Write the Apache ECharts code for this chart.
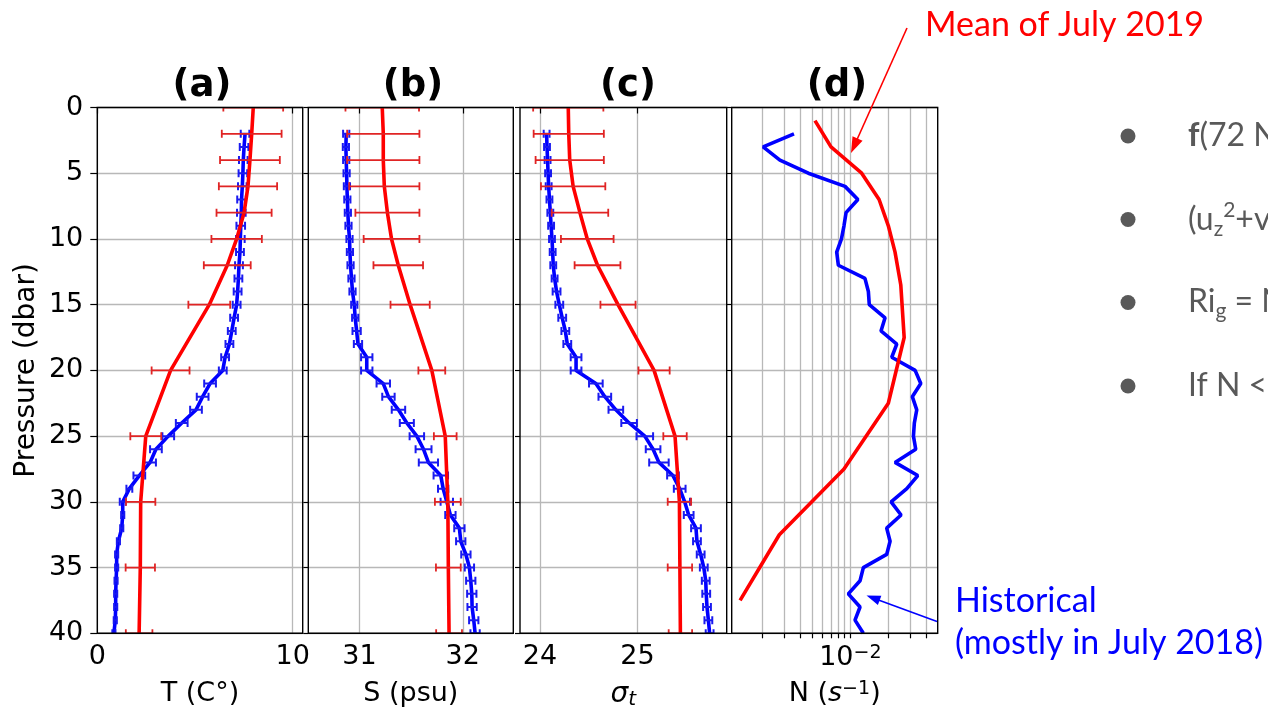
<!DOCTYPE html>
<html>
<head>
<meta charset="utf-8">
<script src="https://cdn.jsdelivr.net/npm/echarts@6/dist/echarts.min.js"></script>
<style>html,body{margin:0;padding:0;background:#fff;}#main{width:1268px;height:712px;}</style>
</head>
<body>
<div id="main"></div>
<script>
// ---------------- data ----------------
// Mean of July 2019 (red) – with error bars
const pressureMean = [0, 2, 4, 6, 8, 10, 12, 15, 20, 25, 30, 35, 40];
const tempMean     = [7.98, 7.90, 7.81, 7.71, 7.51, 7.13, 6.65, 5.73, 3.75, 2.48, 2.22, 2.20, 2.14];
const tempMeanErr  = [1.53, 1.53, 1.53, 1.49, 1.41, 1.29, 1.20, 1.07, 0.97, 0.79, 0.75, 0.75, 0.68];
const salMean      = [31.22, 31.23, 31.23, 31.24, 31.27, 31.31, 31.375, 31.49, 31.70, 31.83, 31.855, 31.86, 31.867];
const salMeanErr   = [0.356, 0.35, 0.35, 0.34, 0.31, 0.27, 0.24, 0.19, 0.13, 0.11, 0.125, 0.12, 0.125];
const sigMean      = [24.29, 24.295, 24.305, 24.34, 24.41, 24.485, 24.59, 24.80, 25.17, 25.385, 25.43, 25.435, 25.44];
const sigMeanErr   = [0.36, 0.36, 0.35, 0.33, 0.29, 0.27, 0.235, 0.18, 0.16, 0.12, 0.12, 0.125, 0.12];
const pressureNMean = [1, 3, 5, 7, 9, 11, 13.5, 17.5, 22.5, 27.5, 32.5, 37.5];
const nMean         = [0.00525, 0.00703, 0.0123, 0.0169, 0.0200, 0.0226, 0.0251, 0.0267, 0.0200, 0.00891, 0.00274, 0.00134];

// Historical (blue) – every dbar
const pressureHist = [2, 3, 4, 5, 6, 7, 8, 9, 10, 11, 12, 13, 14, 15, 16, 17, 18, 19, 20,
                      21, 22, 23, 24, 25, 26, 27, 28, 29, 30, 31, 32, 33, 34, 35, 36, 37, 38, 39, 40];
const tempHist = [7.56, 7.51, 7.47, 7.45, 7.42, 7.38, 7.37, 7.34, 7.32, 7.30, 7.25, 7.22, 7.18, 7.13, 7.00, 6.88, 6.76, 6.54, 6.42,
                  5.77, 5.39, 5.05, 4.32, 3.63, 3.00, 2.70, 2.15, 1.64, 1.30, 1.30, 1.25, 1.08, 0.99, 0.99, 0.96, 0.94, 0.94, 0.92, 0.85];
const tempHistErr = [0.22, 0.22, 0.22, 0.22, 0.22, 0.22, 0.22, 0.22, 0.22, 0.2, 0.2, 0.2, 0.2, 0.2, 0.2, 0.2, 0.2, 0.2, 0.2,
                     0.3, 0.3, 0.3, 0.3, 0.3, 0.3, 0.3, 0.3, 0.15, 0.15, 0.08, 0.08, 0.08, 0.08, 0.08, 0.08, 0.08, 0.08, 0.08, 0.08];
const salHist = [30.871, 30.868, 30.871, 30.875, 30.878, 30.882, 30.887, 30.893, 30.903, 30.907, 30.913, 30.922, 30.932, 30.949, 30.958, 30.972, 30.985, 31.07, 31.07,
                 31.23, 31.28, 31.377, 31.458, 31.555, 31.62, 31.667, 31.787, 31.81, 31.845, 31.88, 31.967, 31.98, 32.03, 32.064, 32.077, 32.087, 32.09, 32.106, 32.119];
const salHistErr = [0.03, 0.03, 0.03, 0.03, 0.03, 0.03, 0.03, 0.03, 0.03, 0.03, 0.03, 0.03, 0.03, 0.03, 0.03, 0.04, 0.04, 0.055, 0.055,
                    0.065, 0.06, 0.065, 0.068, 0.07, 0.077, 0.093, 0.07, 0.05, 0.06, 0.05, 0.05, 0.045, 0.045, 0.045, 0.045, 0.045, 0.045, 0.045, 0.045];
const sigHist = [24.068, 24.072, 24.078, 24.083, 24.089, 24.097, 24.106, 24.114, 24.123, 24.13, 24.136, 24.15, 24.17, 24.198, 24.228, 24.26, 24.28, 24.37, 24.37,
                 24.573, 24.665, 24.778, 24.914, 25.075, 25.16, 25.22, 25.364, 25.433, 25.484, 25.525, 25.60, 25.61, 25.648, 25.68, 25.70, 25.705, 25.713, 25.727, 25.74];
const sigHistErr = [0.03, 0.03, 0.03, 0.03, 0.03, 0.03, 0.03, 0.03, 0.03, 0.03, 0.03, 0.03, 0.04, 0.04, 0.04, 0.04, 0.04, 0.055, 0.055,
                    0.07, 0.065, 0.075, 0.08, 0.085, 0.075, 0.1, 0.06, 0.06, 0.055, 0.05, 0.05, 0.04, 0.04, 0.04, 0.04, 0.04, 0.04, 0.04, 0.04];
const nHist = [0.00358, 0.00204, 0.00277, 0.00465, 0.00908, 0.01148, 0.00925, 0.00891, 0.00851, 0.0078, 0.00804, 0.01306, 0.0139, 0.01413, 0.01884, 0.0175, 0.02333, 0.02128, 0.0326,
               0.03614, 0.03097, 0.03357, 0.03214, 0.03162, 0.03296, 0.0226, 0.0342, 0.028, 0.02104, 0.02523, 0.01941, 0.02065, 0.01941, 0.01268, 0.01194, 0.00964, 0.01194, 0.01089, 0.01268];

// tick values
const pressureTicks = [0, 5, 10, 15, 20, 25, 30, 35, 40];
const tempTicks = [0, 10];
const salTicks = [31, 32];
const sigTicks = [24, 25];
const nMajorTicks = [0.01];
const nMinorTicks = [0.002, 0.003, 0.004, 0.005, 0.006, 0.007, 0.008, 0.009, 0.01, 0.02, 0.03, 0.04];

// ---------------- chart ----------------
const chart = echarts.init(document.getElementById('main'), null, {renderer: 'canvas'});
const FONT = 'DejaVu Sans';
const FS = 27;
const RED = '#ff0000', BLUE = '#0000ff', RED_ERR = '#e02424', BLUE_ERR = '#1a1af0';
const GRID_COLOR = '#b8b8b8';

const gridTop = 107.5, gridH = 525.8;
const gridBoxes = [
  {left: 97.3, width: 205.4},
  {left: 308.3, width: 205},
  {left: 520, width: 206.7},
  {left: 731.7, width: 206}
];
const grids = gridBoxes.map(g => ({left: g.left, width: g.width, top: gridTop, height: gridH,
  show: false, containLabel: false, outerBoundsMode: 'none'}));

const N_MIN = 0.00115, N_MAX = 0.0492;

function xAxisLin(idx, min, max, ticks, name) {
  return {
    type: 'value', gridIndex: idx, min: min, max: max, position: 'bottom',
    axisLine: {show: false},
    axisTick: {show: true, length: 6, customValues: ticks, lineStyle: {color: '#000', width: 1.2}},
    axisLabel: {show: true, customValues: ticks, margin: 10, fontSize: FS, fontFamily: FONT, color: '#000'},
    splitLine: {show: true, lineStyle: {color: GRID_COLOR, width: 1.3}},
    name: name, nameLocation: 'middle', nameGap: 47,
    nameTextStyle: {fontSize: FS, fontFamily: FONT, color: '#000'}
  };
}

function yAxis(idx, showLabel) {
  return {
    type: 'value', gridIndex: idx, min: 0, max: 40, interval: 5, inverse: true,
    axisLine: {show: false},
    axisTick: {show: true, length: idx === 0 ? 7 : 5, lineStyle: {color: '#000', width: 1.2}},
    axisLabel: {show: showLabel, margin: 14, fontSize: FS, fontFamily: FONT, color: '#000'},
    splitLine: {show: true, lineStyle: {color: GRID_COLOR, width: 1.3}},
    name: showLabel ? 'Pressure (dbar)' : '', nameLocation: 'middle', nameGap: 57,
    nameTextStyle: {fontSize: FS + 1, fontFamily: FONT, color: '#000'}
  };
}

const xAxes = [
  xAxisLin(0, 0, 10.51, tempTicks, 'T (C°)'),
  xAxisLin(1, 30.504, 32.489, salTicks, 'S (psu)'),
  xAxisLin(2, 23.795, 25.915, sigTicks, '{i|σ}{s|t}'),
  // log axis carrying the N data
  {
    type: 'log', logBase: 10, gridIndex: 3, min: N_MIN, max: N_MAX, position: 'bottom',
    axisLine: {show: false}, axisTick: {show: false}, splitLine: {show: false}, minorTick: {show: false},
    axisLabel: {show: true, margin: 10, showMinLabel: false, showMaxLabel: false,
      formatter: function (v) { return nMajorTicks.some(t => Math.abs(v - t) / t < 1e-6) ? '{b|10}{sup|−2}' : ''; },
      rich: {b: {fontSize: FS, fontFamily: FONT, color: '#000', lineHeight: 30},
             sup: {fontSize: 19, fontFamily: FONT, color: '#000', lineHeight: 16, verticalAlign: 'top'}}},
    name: '{n|N (}{i|s}{sup|−1}{n|)}', nameLocation: 'middle', nameGap: 46,
    nameTextStyle: {fontSize: FS, fontFamily: FONT, color: '#000',
      rich: {n: {fontSize: FS, fontFamily: FONT, color: '#000', lineHeight: 30},
             i: {fontSize: FS, fontFamily: FONT, fontStyle: 'italic', color: '#000', lineHeight: 30},
             sup: {fontSize: 19, fontFamily: FONT, color: '#000', lineHeight: 10, verticalAlign: 'top'}}}
  },
  // companion axis (decades of the same log scale) for the log grid lines / ticks
  {
    type: 'value', gridIndex: 3, min: Math.log10(N_MIN), max: Math.log10(N_MAX), position: 'bottom',
    axisLine: {show: false},
    axisTick: {show: true, length: 5, customValues: nMinorTicks.map(v => Math.log10(v)), lineStyle: {color: '#000', width: 1.2}},
    axisLabel: {show: false},
    splitLine: {show: true, lineStyle: {color: GRID_COLOR, width: 1.3}}
  }
];
xAxes[2].nameGap = 46;
xAxes[2].nameTextStyle.rich = {
  i: {fontSize: 28, fontFamily: FONT, fontStyle: 'italic', color: '#000', lineHeight: 30},
  s: {fontSize: 20, fontFamily: FONT, fontStyle: 'italic', color: '#000', lineHeight: 10, verticalAlign: 'bottom'}
};

const yAxes = [yAxis(0, true), yAxis(1, false), yAxis(2, false), yAxis(3, false)];

function lineSeries(idx, pres, vals, color, z) {
  return {
    type: 'line', xAxisIndex: idx, yAxisIndex: idx, clip: true, silent: true, z: z,
    showSymbol: false, symbol: 'none', animation: false,
    lineStyle: {color: color, width: 3.6},
    data: pres.map((p, i) => [vals[i], p])
  };
}

function errSeries(idx, pres, vals, errs, color, cap, lw, z) {
  return {
    type: 'custom', xAxisIndex: idx, yAxisIndex: idx, clip: true, silent: true, z: z, animation: false,
    data: pres.map((p, i) => [vals[i] - errs[i], vals[i] + errs[i], p]),
    encode: {x: [0, 1], y: 2},
    renderItem: function (params, api) {
      const a = api.coord([api.value(0), api.value(2)]);
      const b = api.coord([api.value(1), api.value(2)]);
      const st = {stroke: color, lineWidth: lw};
      return {type: 'group', children: [
        {type: 'line', shape: {x1: a[0], y1: a[1], x2: b[0], y2: b[1]}, style: st},
        {type: 'line', shape: {x1: a[0], y1: a[1] - cap, x2: a[0], y2: a[1] + cap}, style: st},
        {type: 'line', shape: {x1: b[0], y1: b[1] - cap, x2: b[0], y2: b[1] + cap}, style: st}
      ]};
    }
  };
}

const series = [
  lineSeries(0, pressureHist, tempHist, BLUE, 2),
  errSeries(0, pressureHist, tempHist, tempHistErr, BLUE_ERR, 4, 2, 3),
  lineSeries(0, pressureMean, tempMean, RED, 4),
  errSeries(0, pressureMean, tempMean, tempMeanErr, RED_ERR, 4, 1.8, 5),

  lineSeries(1, pressureHist, salHist, BLUE, 2),
  errSeries(1, pressureHist, salHist, salHistErr, BLUE_ERR, 4, 2, 3),
  lineSeries(1, pressureMean, salMean, RED, 4),
  errSeries(1, pressureMean, salMean, salMeanErr, RED_ERR, 4, 1.8, 5),

  lineSeries(2, pressureHist, sigHist, BLUE, 2),
  errSeries(2, pressureHist, sigHist, sigHistErr, BLUE_ERR, 4, 2, 3),
  lineSeries(2, pressureMean, sigMean, RED, 4),
  errSeries(2, pressureMean, sigMean, sigMeanErr, RED_ERR, 4, 1.8, 5),

  lineSeries(3, pressureHist, nHist, BLUE, 2),
  lineSeries(3, pressureNMean, nMean, RED, 4)
];

// ---------------- annotations ----------------
function arrow(x1, y1, x2, y2, color, len, hw, lw) {
  const dx = x2 - x1, dy = y2 - y1, L = Math.hypot(dx, dy), ux = dx / L, uy = dy / L;
  const bx = x2 - ux * len, by = y2 - uy * len;
  return [
    {type: 'line', z: 100, shape: {x1: x1, y1: y1, x2: bx + ux * 2, y2: by + uy * 2}, style: {stroke: color, lineWidth: lw}},
    {type: 'polygon', z: 100, shape: {points: [[x2, y2], [bx - uy * hw, by + ux * hw], [bx + uy * hw, by - ux * hw]]}, style: {fill: color}}
  ];
}

function txt(x, y, text, style, rich, align) {
  const s = Object.assign({text: text, x: 0, y: 0, align: align || 'left', textAlign: align || 'left',
    verticalAlign: 'middle', textVerticalAlign: 'middle'}, style);
  if (rich) s.rich = rich;
  return {type: 'text', x: x, y: y, z: 100, style: s};
}

const titleStyle = {font: 'bold 37px "DejaVu Sans"', fill: '#000'};
const gray = '#595959';
const bulletRich = {
  n: {fontSize: 32, fontFamily: 'Lato', fill: gray, color: gray, lineHeight: 40},
  b: {fontSize: 32, fontFamily: 'Lato', fontWeight: 'bold', fill: gray, color: gray, lineHeight: 40},
  sub: {fontSize: 21, fontFamily: 'Lato', fill: gray, color: gray, lineHeight: 12, verticalAlign: 'bottom'},
  sup: {fontSize: 21, fontFamily: 'Lato', fill: gray, color: gray, lineHeight: 18, verticalAlign: 'top'}
};

// panel frames (drawn above the grid lines, like matplotlib spines)
const frames = gridBoxes.map(g => ({
  type: 'rect', z: 50, silent: true,
  shape: {x: g.left, y: gridTop, width: g.width, height: gridH},
  style: {fill: 'none', stroke: '#000', lineWidth: 1.4}
}));

const graphic = frames.concat([
  txt(202, 86, '(a)', titleStyle, null, 'center'),
  txt(413, 86, '(b)', titleStyle, null, 'center'),
  txt(628, 86, '(c)', titleStyle, null, 'center'),
  txt(837, 86, '(d)', titleStyle, null, 'center'),

  txt(925, 25, 'Mean of July 2019', {font: '34px Lato', fill: RED}),
  txt(955, 601, 'Historical', {font: '34px Lato', fill: BLUE}),
  txt(955, 643, '(mostly in July 2018)', {font: '34px Lato', fill: BLUE}),

  {type: 'circle', z: 100, shape: {cx: 1128, cy: 136, r: 7.5}, style: {fill: gray}},
  {type: 'circle', z: 100, shape: {cx: 1128, cy: 219.5, r: 7.5}, style: {fill: gray}},
  {type: 'circle', z: 100, shape: {cx: 1128, cy: 302.5, r: 7.5}, style: {fill: gray}},
  {type: 'circle', z: 100, shape: {cx: 1128, cy: 386, r: 7.5}, style: {fill: gray}},
  txt(1188, 136, '{b|f}{n|(72 N}', {fill: gray}, bulletRich),
  txt(1188, 220, '{n|(u}{sub|z}{sup|2}{n|+v}', {fill: gray}, bulletRich),
  txt(1188, 302, '{n|Ri}{sub|g}{n| = N}', {fill: gray}, bulletRich),
  txt(1188, 386, '{n|If N <}', {fill: gray}, bulletRich)
]).concat(
  arrow(907, 28, 851, 153, RED, 16, 5.5, 1.6),
  arrow(937, 621.5, 866.5, 595.5, BLUE, 14, 5, 1.6)
);

chart.setOption({
  animation: false,
  backgroundColor: '#fff',
  grid: grids,
  xAxis: xAxes,
  yAxis: yAxes,
  series: series,
  graphic: graphic
});
</script>
</body>
</html>
